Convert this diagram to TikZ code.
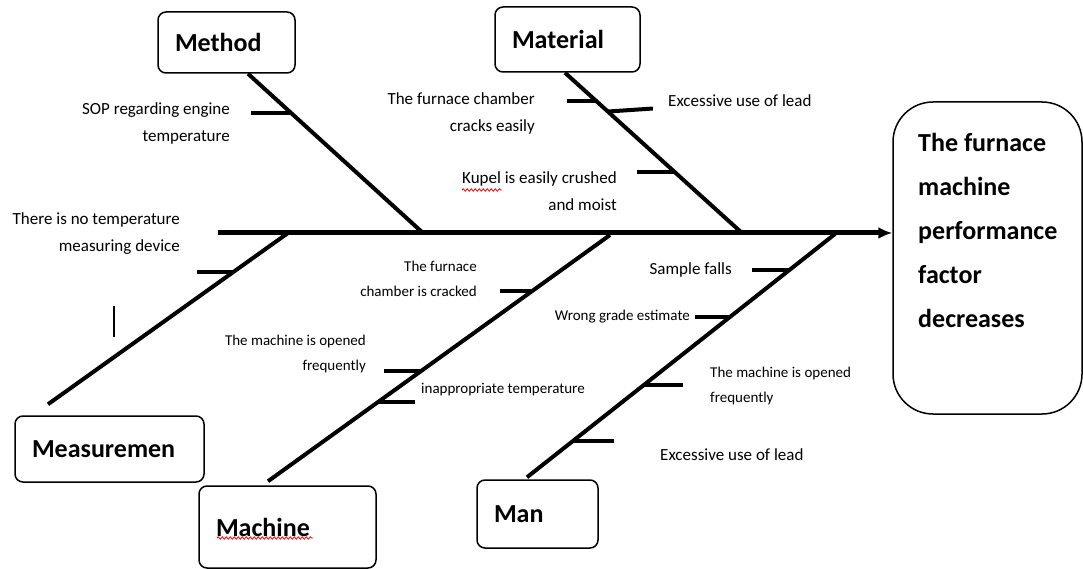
\documentclass[tikz,border=0pt]{standalone}
\usepackage{fontspec}
\setmainfont{Carlito}
\usetikzlibrary{arrows.meta,decorations.pathmorphing}

\tikzset{
  catbox/.style={draw, rounded corners=8pt, line width=1.5pt, align=left, inner xsep=17pt, font=\fontsize{26}{30}\selectfont\bfseries},
  effectbox/.style={draw, rounded corners=40pt, line width=1.5pt, minimum width=189pt, minimum height=312pt},
  effecttext/.style={inner sep=0pt, align=left, font=\fontsize{26}{44}\selectfont\bfseries},
  cause/.style={inner sep=0pt, font=\fontsize{17}{27}\selectfont},
  causesm/.style={inner sep=0pt, font=\fontsize{15}{25}\selectfont},
  spine/.style={line width=5pt, -{Latex[length=14pt,width=12pt]}},
  bone/.style={line width=4pt},
  twig/.style={line width=4pt},
  spell/.style={red, line width=0.8pt, decorate, decoration={snake, amplitude=1.2pt, segment length=4pt}},
}

\begin{document}
\begin{tikzpicture}[x=1pt,y=-1pt]
\useasboundingbox (0,0) rectangle (1083,569);

% Effect box
\node[effectbox] (effect) at (987.5,258) {};
\node[effecttext, anchor=north west] (effecttxt) at (918,133) {The furnace\\machine\\performance\\factor\\decreases};

% Main spine
\coordinate (tail) at (218,233);
\draw[spine] (tail) -- (tail -| effect.west);

% Category boxes
\node[catbox, text width=103pt, minimum height=61pt] (method) at (226.5,42.5) {Method};
\node[catbox, text width=111pt, minimum height=65pt] (material) at (567.5,39.5) {Material};
\node[catbox, text width=155pt, minimum height=66pt] (meas) at (109.5,449) {Measuremen};
\node[catbox, text width=143pt, minimum height=82pt] (machine) at (287.5,527) {Machine};
\node[catbox, text width=87pt, minimum height=68pt] (man) at (537.5,514) {Man};

% Method branch
\coordinate (methodEnd) at (423,233);
\draw[bone] ([xshift=21.5pt]method.south) -- (methodEnd) coordinate[pos=0.244] (mt1);
\draw[twig] (mt1) -- ++(-40,0);
\node[cause, anchor=east, align=right] (mt1txt) at (230,123.5) {SOP regarding engine\\temperature};

% Material branch
\coordinate (materialEnd) at (742,233);
\draw[bone] ([xshift=-2.5pt]material.south) -- (materialEnd)
  coordinate[pos=0.174] (ma1) coordinate[pos=0.242] (ma2) coordinate[pos=0.621] (ma3);
\draw[twig] (ma1) -- ++(-29,0);
\draw[twig] (ma2) -- ++(45,-3);
\draw[twig] (ma3) -- ++(-38,0);
\node[cause, anchor=east, align=right] (ma1txt) at (535,113.5) {The furnace chamber\\cracks easily};
\node[cause, anchor=west] (ma2txt) at (668,101) {Excessive use of lead};
\node[cause, anchor=east, align=right] (ma3txt) at (617,191.5) {Kupel is easily crushed\\and moist};
\draw[spell] (462,190) -- (502,190);

% Measurement branch
\coordinate (measEnd) at (288,233);
\draw[bone] ([xshift=-61.5pt,yshift=11pt]meas.north) -- (measEnd) coordinate[pos=0.773] (me1);
\draw[twig] (me1) -- ++(-37,0);
\node[cause, anchor=east, align=right] (me1txt) at (180,234) {There is no temperature\\measuring device};
\draw[line width=1.2pt] (114,306) -- (114,337);

% Machine branch
\coordinate (machineEnd) at (610,235);
\draw[bone] ([xshift=-19.5pt,yshift=4pt]machine.north) -- (machineEnd)
  coordinate[pos=0.773] (mc1) coordinate[pos=0.449] (mc2) coordinate[pos=0.32] (mc3);
\draw[twig] (mc1) -- ++(-32,0);
\draw[twig] (mc2) -- ++(-38,0);
\draw[twig] (mc3) -- ++(38,0);
\node[causesm, anchor=east, align=right] (mc1txt) at (477,278.5) {The furnace\\chamber is cracked};
\node[causesm, anchor=east, align=right] (mc2txt) at (366,354) {The machine is opened\\frequently};
\node[causesm, anchor=west] (mc3txt) at (421,390) {inappropriate temperature};
\draw[spell] (217,538) -- (313,538);

% Man branch
\coordinate (manEnd) at (835,234);
\draw[bone] ([xshift=-10.5pt,yshift=2pt]man.north) -- (manEnd)
  coordinate[pos=0.852] (mn1) coordinate[pos=0.66] (mn2) coordinate[pos=0.381] (mn3) coordinate[pos=0.148] (mn4);
\draw[twig] (mn1) -- ++(-37,0);
\draw[twig] (mn2) -- ++(-35,0);
\draw[twig] (mn3) -- ++(39,0);
\draw[twig] (mn4) -- ++(41,0);
\node[cause, anchor=east] (mn1txt) at (732,270) {Sample falls};
\node[causesm, anchor=east] (mn2txt) at (690,317) {Wrong grade estimate};
\node[causesm, anchor=west, align=left] (mn3txt) at (710,386) {The machine is opened\\frequently};
\node[cause, anchor=west] (mn4txt) at (660,455) {Excessive use of lead};

\end{tikzpicture}
\end{document}
